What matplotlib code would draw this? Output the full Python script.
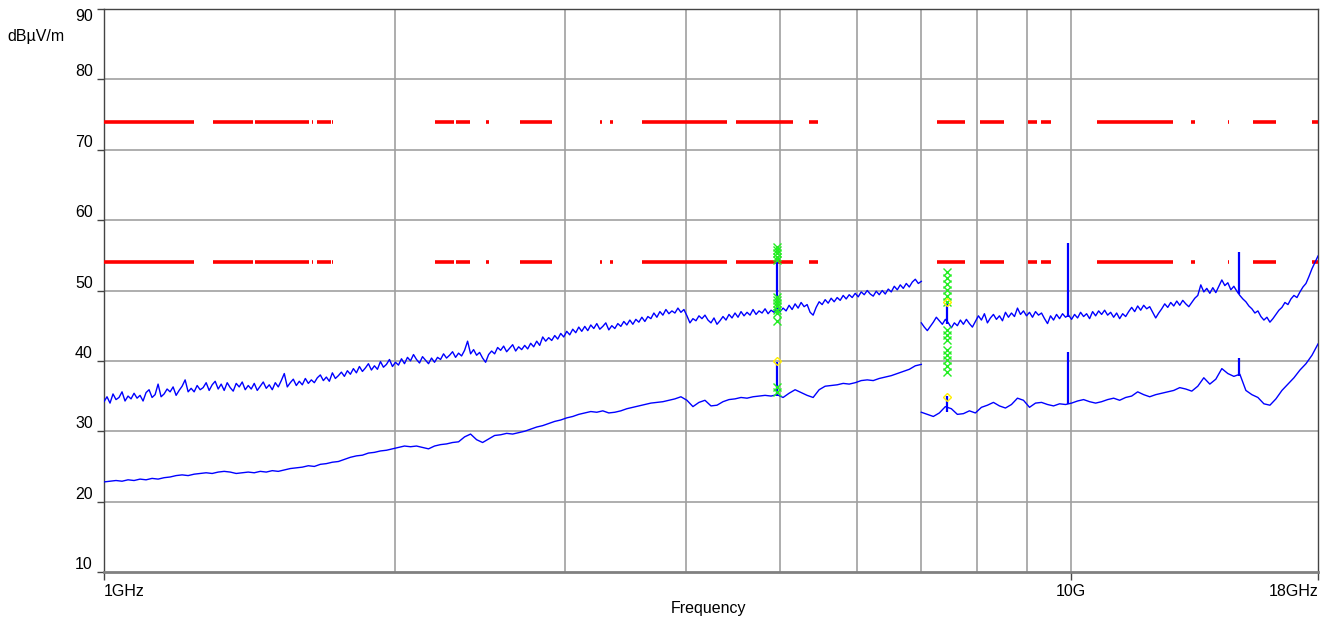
import numpy as np
import matplotlib
matplotlib.use("Agg")
import matplotlib.pyplot as plt

plt.rcParams['font.family'] = ['Liberation Sans', 'DejaVu Sans']

# ---------------- data ----------------
# limit lines (dBuV/m) and the frequency stretches (GHz) where they are drawn
limit_levels = [74, 54]
limit_seg_start = [1.0, 1.297, 1.433, 1.641, 1.661, 1.721,
                   2.199, 2.312, 2.483, 2.693, 3.259, 3.336,
                   3.601, 4.505, 5.359,
                   7.269, 8.052, 9.028, 9.311,
                   10.64, 13.31, 14.54, 15.43, 17.75]
limit_seg_end = [1.239, 1.426, 1.629, 1.645, 1.717, 1.725,
                 2.301, 2.390, 2.501, 2.906, 3.273, 3.360,
                 4.410, 5.158, 5.475,
                 7.769, 8.524, 9.222, 9.535,
                 12.75, 13.44, 14.58, 16.29, 18.0]

# sweep ranges (GHz)
seg1_range = (1.0, 7.0)
seg2_range = (7.0, 18.0)

peak_seg1 = [
    34.2, 34.9, 34.0, 35.3, 34.5, 34.8, 35.6, 34.3, 35.0, 34.6,
    35.4, 34.7, 35.1, 34.3, 35.5, 35.9, 34.8, 35.2, 36.7, 34.9,
    35.3, 36.0, 35.6, 36.3, 35.1, 35.8, 36.4, 37.3, 35.6, 36.1,
    35.6, 36.5, 35.9, 36.2, 36.9, 35.8, 36.6, 37.1, 36.0, 36.7,
    35.8, 36.9, 36.2, 35.7, 36.8, 36.3, 37.0, 35.9, 36.5, 36.0,
    36.8, 35.8, 36.4, 37.0, 36.1, 36.6, 35.9, 36.9, 36.3, 37.2,
    38.2, 36.3, 36.9, 37.4, 36.5, 37.1, 36.6, 37.5, 36.8, 37.3,
    36.9, 37.6, 38.0, 37.2, 37.7, 37.1, 38.3, 37.5, 37.9, 38.4,
    37.8, 38.6, 38.1, 38.9, 38.3, 39.2, 38.5, 39.0, 39.6, 38.7,
    39.3, 38.8, 39.9, 39.1, 39.5, 40.2, 39.2, 39.8, 39.4, 40.3,
    39.6, 40.5, 40.0, 40.9, 40.2, 39.7, 40.6, 40.1, 39.6, 40.4,
    39.8, 40.5, 40.2, 41.0, 40.4, 40.8, 41.3, 40.5, 41.1, 40.7,
    41.5, 42.8, 41.0, 41.6, 40.8, 41.2, 40.4, 39.8, 40.9, 41.4,
    41.0, 41.9, 41.5, 42.1, 41.3, 41.8, 42.3, 41.4, 42.0, 41.6,
    42.2, 41.7, 42.5, 42.0, 42.8, 42.2, 43.4, 42.8, 43.3, 42.9,
    43.6, 43.1, 43.9, 43.4, 44.2, 43.7, 44.5, 44.0, 44.8, 44.2,
    44.9, 44.3, 45.1, 44.6, 45.3, 44.5, 44.9, 45.4, 44.4, 45.0,
    44.6, 45.3, 44.9, 45.6, 45.1, 45.8, 45.2, 45.9, 45.5, 46.2,
    45.6, 46.3, 46.0, 46.8, 46.2, 47.0, 46.5, 47.3, 46.7, 47.1,
    46.8, 47.5, 46.9, 47.3, 46.4, 45.4, 46.0, 45.7, 46.4, 46.0,
    46.5, 45.8, 45.4, 46.1, 45.2, 45.7, 46.3, 45.8, 46.6, 46.1,
    46.8, 46.2, 47.0, 46.4, 46.9, 46.5, 47.3, 46.6, 47.1, 46.8,
    47.4, 46.7, 47.2, 46.9, 47.6, 47.0, 47.5, 47.1, 47.9, 47.3,
    48.1, 47.5, 48.3, 47.7, 48.0, 46.9, 46.5, 47.6, 48.4, 48.0,
    48.7, 48.2, 48.9, 48.4, 49.0, 48.6, 49.3, 48.8, 49.4, 49.0,
    49.6, 49.1, 49.8, 49.4, 50.0, 49.5, 49.2, 49.9, 49.4, 50.0,
    49.5, 50.2, 49.8, 50.6, 50.1, 50.8, 50.3, 51.0, 50.5, 51.2,
    51.6, 51.0, 51.3]

peak_seg2 = [
    45.4, 44.8, 44.3, 44.9, 45.5, 46.2, 45.7, 45.2, 45.9, 45.4,
    44.7, 45.4, 45.0, 45.8, 45.2, 45.9, 45.3, 44.8, 45.6, 46.4,
    45.8, 46.7, 45.4, 46.1, 46.6, 45.9, 46.4, 45.7, 46.9, 46.2,
    46.8, 46.3, 47.5, 46.6, 47.1, 46.4, 46.9, 46.2, 47.0, 46.5,
    46.8, 46.0, 45.3, 46.4, 45.8, 46.6, 46.0, 46.7, 46.2, 46.5,
    45.9, 46.6, 46.1, 46.9, 46.3, 46.7, 46.0, 47.0, 46.4, 47.1,
    46.6, 47.2, 46.5, 46.9, 46.2, 46.8, 46.0, 46.7, 46.3, 47.0,
    47.6, 47.0, 47.8, 47.2, 47.9, 47.4, 47.7, 46.9, 46.1, 46.8,
    47.4, 48.1, 47.6, 48.3, 47.8, 48.5, 47.9, 48.6, 48.1, 47.7,
    48.3, 48.9, 49.3, 50.8, 49.8, 50.3, 49.6, 50.4, 49.7, 50.6,
    51.5, 50.7, 51.1, 50.1, 50.6, 49.9, 49.3, 48.8, 48.4, 47.8,
    47.4, 46.8, 47.1, 46.3, 45.8, 46.2, 45.5, 46.0, 46.6, 47.2,
    47.6, 48.3, 48.0, 48.8, 49.3, 49.0, 49.8, 50.5, 51.0, 52.0,
    53.1, 54.0, 54.9]

avg_seg1 = [
    22.8, 22.9, 23.0, 22.9, 23.1, 23.0, 23.2, 23.1, 23.3, 23.2,
    23.4, 23.5, 23.7, 23.8, 23.7, 23.9, 24.0, 24.1, 24.0, 24.2,
    24.3, 24.2, 24.0, 24.1, 24.2, 24.1, 24.3, 24.2, 24.4, 24.3,
    24.5, 24.7, 24.8, 24.9, 25.1, 25.0, 25.3, 25.4, 25.6, 25.7,
    26.0, 26.3, 26.5, 26.6, 26.9, 27.0, 27.2, 27.3, 27.5, 27.7,
    27.9, 27.8, 27.9, 27.7, 27.5, 27.9, 28.1, 28.2, 28.4, 28.5,
    29.2, 29.6, 28.8, 28.4, 28.9, 29.4, 29.5, 29.7, 29.6, 29.8,
    30.0, 30.3, 30.6, 30.8, 31.1, 31.4, 31.6, 31.9, 32.1, 32.4,
    32.6, 32.8, 32.7, 32.9, 32.6, 32.7, 32.9, 33.2, 33.4, 33.6,
    33.8, 34.0, 34.1, 34.2, 34.4, 34.6, 34.9, 34.4, 33.5, 34.1,
    34.4, 33.6, 33.7, 34.2, 34.5, 34.6, 34.8, 34.7, 34.9, 35.0,
    35.1, 35.0, 35.2, 34.8, 35.4, 35.9, 35.5, 35.1, 34.8, 35.9,
    36.4, 36.5, 36.6, 36.8, 36.7, 36.9, 37.2, 37.3, 37.2, 37.5,
    37.7, 37.9, 38.2, 38.5, 38.8, 39.3, 39.5]

avg_seg2 = [
    32.7, 32.4, 32.1, 32.6, 33.5, 33.2, 32.4, 32.5, 32.9, 32.6,
    33.4, 33.7, 34.1, 33.6, 33.3, 33.8, 34.7, 34.4, 33.4, 34.0,
    34.1, 33.8, 33.6, 33.9, 33.8, 34.0, 34.3, 34.5, 34.2, 34.0,
    34.2, 34.5, 34.7, 34.4, 34.8, 35.0, 35.6, 35.2, 34.9, 35.2,
    35.4, 35.6, 35.8, 36.2, 36.0, 35.7, 36.4, 37.6, 36.7, 37.4,
    38.9, 38.2, 37.8, 38.1, 35.8, 35.2, 34.8, 33.9, 33.7, 34.6,
    35.8, 36.7, 37.6, 38.7, 39.6, 40.8, 42.4]

# narrow spurs (GHz) with trace level and spur top
spur_freq = [4.97, 7.44, 9.93, 14.92]
spur_peak_base = [47.0, 45.3, 46.2, 49.5]
spur_peak_top = [54.3, 48.4, 56.7, 55.4]
spur_avg_base = [35.0, 32.8, 33.9, 37.8]
spur_avg_top = [39.8, 35.0, 41.3, 40.4]

# final measurement markers
mark_freq_a = 4.97
mark_vals_a = [56.2, 55.7, 55.3, 54.7, 54.3, 49.1, 48.6, 48.2, 47.8, 47.2,
               46.8, 45.7, 36.3, 35.6]
mark_freq_b = 7.44
mark_vals_b = [52.6, 51.8, 50.9, 50.1, 49.2, 48.4, 44.4, 43.7, 43.0, 41.5,
               40.8, 40.1, 39.3, 38.4]
diamond_freq = [4.97, 7.44, 7.44]
diamond_vals = [40.0, 48.4, 34.9]

x_ticks = [1, 10, 18]
x_tick_labels = ['1GHz', '10G', '18GHz']
x_grid = [2, 3, 4, 5, 6, 7, 8, 9]
y_ticks = [10, 20, 30, 40, 50, 60, 70, 80, 90]

# ---------------- plot ----------------
W, H = 1332, 620
fig = plt.figure(figsize=(W / 100, H / 100), dpi=100)
ax = fig.add_axes([104 / W, (H - 572) / H, (1318 - 104) / W, (572 - 9) / H])
ax.set_xscale('log')
ax.set_xlim(1, 18)
ax.set_ylim(10, 90)

# grid
for yv in y_ticks[1:-1]:
    ax.axhline(yv, color='#a8a8a8', lw=1.3, zorder=1)
for xv in x_grid:
    ax.axvline(xv, color='#a0a0a0', lw=1.2, zorder=1)
ax.axvline(10, color='#a0a0a0', lw=1.2, zorder=1)

# limit lines
for lv in limit_levels:
    ax.hlines([lv] * len(limit_seg_start), limit_seg_start, limit_seg_end,
              colors='#ff0000', lw=2.6, zorder=3, capstyle='butt')

# traces
f1 = np.geomspace(seg1_range[0], seg1_range[1], len(peak_seg1))
f2 = np.geomspace(seg2_range[0], seg2_range[1], len(peak_seg2))
fa1 = np.geomspace(seg1_range[0], seg1_range[1], len(avg_seg1))
fa2 = np.geomspace(seg2_range[0], seg2_range[1], len(avg_seg2))
blue = '#0000ff'
ax.plot(f1, peak_seg1, color=blue, lw=1.0, zorder=4)
ax.plot(f2, peak_seg2, color=blue, lw=1.0, zorder=4)
ax.plot(fa1, avg_seg1, color=blue, lw=1.0, zorder=4)
ax.plot(fa2, avg_seg2, color=blue, lw=1.0, zorder=4)
ax.vlines(spur_freq, spur_peak_base, spur_peak_top, colors=blue, lw=1.6, zorder=4)
ax.vlines(spur_freq, spur_avg_base, spur_avg_top, colors=blue, lw=1.6, zorder=4)

# markers
ax.plot([mark_freq_a] * len(mark_vals_a), mark_vals_a, ls='none', marker='x',
        ms=6, mew=1.0, color='#22ee22', zorder=5)
ax.plot([mark_freq_b] * len(mark_vals_b), mark_vals_b, ls='none', marker='x',
        ms=6, mew=1.0, color='#22ee22', zorder=5)
ax.plot(diamond_freq, diamond_vals, ls='none', marker='D', ms=4, mew=1.0,
        mfc='none', mec='#ffee00', zorder=6)

# spines
for s in ['top', 'right', 'left']:
    ax.spines[s].set_color('#444444')
    ax.spines[s].set_linewidth(1.0)
ax.spines['bottom'].set_color('#808080')
ax.spines['bottom'].set_linewidth(2.0)

# ticks
ax.set_xticks(x_ticks)
ax.set_xticklabels(x_tick_labels)
ax.xaxis.set_minor_locator(matplotlib.ticker.NullLocator())
ax.tick_params(axis='x', which='major', length=6, width=1, color='#444444',
               labelsize=11.5, pad=3)
for lab, ha in zip(ax.get_xticklabels(), ['left', 'center', 'right']):
    lab.set_ha(ha)
ax.set_yticks(y_ticks)
ax.set_yticklabels([str(v) for v in y_ticks])
ax.tick_params(axis='y', length=5, width=1, color='#444444', labelsize=11.5, pad=3)
ylabs = ax.get_yticklabels()
for lab in ylabs[:-1]:
    lab.set_va('bottom')
ylabs[-1].set_va('top')

fig.text(7 / W, 1 - 37 / H, 'dBµV/m', ha='left', va='center', fontsize=11.5)
fig.text(709 / W, 1 - 609 / H, 'Frequency', ha='center', va='center', fontsize=11.5)

fig.savefig('out.png', dpi=100)
